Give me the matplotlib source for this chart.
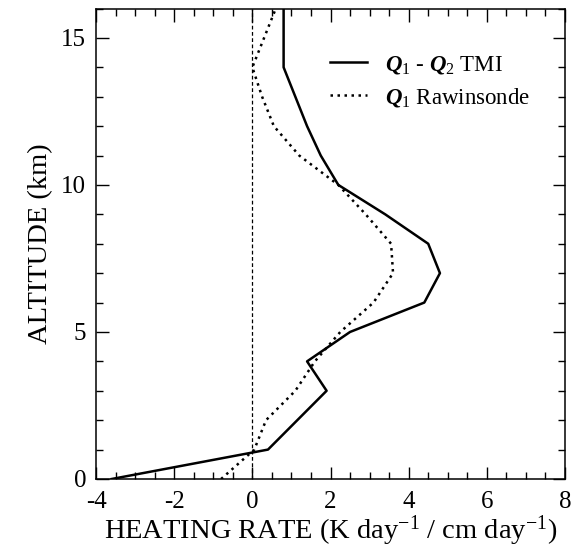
import numpy as np
import matplotlib
matplotlib.use('Agg')
import matplotlib.pyplot as plt
from matplotlib.ticker import MultipleLocator

plt.rcParams['font.family'] = ['Liberation Serif', 'DejaVu Serif']
plt.rcParams['axes.unicode_minus'] = False
plt.rcParams['mathtext.fontset'] = 'custom'
plt.rcParams['mathtext.rm'] = 'Liberation Serif'
plt.rcParams['mathtext.it'] = 'Liberation Serif:italic:bold'
plt.rcParams['mathtext.bf'] = 'Liberation Serif:bold'

# Q1 - Q2 from TMI
tmi_alt = [0, 1, 2, 3, 4, 5, 6, 7, 8, 9, 10, 11, 12, 13, 14, 16]
tmi_rate = [-3.6, 0.4, 1.15, 1.9, 1.4, 2.5, 4.4, 4.8, 4.5, 3.4, 2.2, 1.75, 1.4, 1.1, 0.8, 0.8]

# Q1 from rawinsonde
raw_alt = [0, 1, 2, 3, 4, 5, 6, 7, 8, 9, 10, 11, 12, 13, 14, 15, 16]
raw_rate = [-0.8, 0.05, 0.35, 1.1, 1.6, 2.25, 3.1, 3.6, 3.55, 2.9, 2.2, 1.2, 0.55, 0.25, 0.0, 0.3, 0.6]

fig = plt.figure(figsize=(5.75, 5.56), dpi=100)
ax = fig.add_axes([0.167, 0.1385, 0.8156, 0.8462])

ax.axvline(0, color='black', lw=0.9, ls=(0, (3, 2)))
ax.plot(tmi_rate, tmi_alt, color='black', lw=1.8, label=r'$Q_1$ - $Q_2$ TMI')
ax.plot(raw_rate, raw_alt, color='black', lw=1.8, ls=(0, (1, 1.8)), label=r'$Q_1$ Rawinsonde')

ax.set_xlim(-4, 8)
ax.set_ylim(0, 16)
ax.xaxis.set_major_locator(MultipleLocator(2))
ax.xaxis.set_minor_locator(MultipleLocator(0.5))
ax.yaxis.set_major_locator(MultipleLocator(5))
ax.yaxis.set_minor_locator(MultipleLocator(1))
ax.tick_params(which='both', direction='in', top=True, right=True, labelsize=18, width=1)
ax.tick_params(which='major', length=9)
ax.tick_params(axis='x', which='major', pad=9)
ax.tick_params(axis='y', which='major', pad=7)
ax.tick_params(which='minor', length=5)
for s in ax.spines.values():
    s.set_linewidth(1.1)

ax.set_xlabel(r'HEATING RATE (K day$^{-1}$ / cm day$^{-1}$)', fontsize=20.5, labelpad=0)
ax.set_ylabel('ALTITUDE (km)', fontsize=20.5, labelpad=6)

ax.legend(loc='upper left', bbox_to_anchor=(0.454, 0.948), frameon=False, fontsize=16.5,
          handlelength=1.65, handletextpad=0.75, labelspacing=0.45)

fig.savefig('out.png', dpi=100)
